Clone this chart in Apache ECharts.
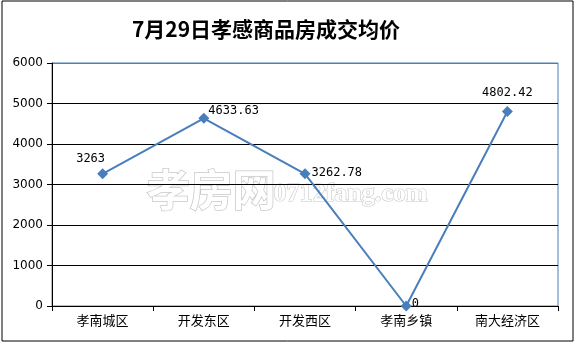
<!DOCTYPE html>
<html><head><meta charset="utf-8">
<script src="https://cdn.jsdelivr.net/npm/echarts@6/dist/echarts.min.js"></script>
<style>html,body{margin:0;padding:0;background:#fff}#c{width:575px;height:344px}</style>
</head><body><div id="c"></div>
<script>
var titleText = '7月29日孝感商品房成交均价';
var categories = ['孝南城区', '开发东区', '开发西区', '孝南乡镇', '南大经济区'];
var prices = [3263, 4633.63, 3262.78, 0, 4802.42];
var priceLabels = ['3263', '4633.63', '3262.78', '0', '4802.42'];
var yTicks = [0, 1000, 2000, 3000, 4000, 5000, 6000];

var labelPos = [
  {position: 'top', offset: [-12, 2]},
  {position: 'right', offset: [-6, -7]},
  {position: 'right', offset: [-4, -1]},
  {position: 'right', offset: [-5, -2]},
  {position: 'top', offset: [0, -2]}
];
var lineColor = '#4a7ebb';
var data = prices.map(function (v, i) {
  return {value: v, label: Object.assign({show: true, formatter: priceLabels[i]}, labelPos[i])};
});

var chart = echarts.init(document.getElementById('c'));
chart.setOption({
  animation: false,
  backgroundColor: '#fff',
  title: {
    text: titleText, left: 261, top: 14, textAlign: 'center',
    textStyle: {fontSize: 21, fontWeight: 'bold', color: '#000', fontFamily: '"Noto Sans CJK SC", sans-serif'}
  },
  graphic: [
    {type: 'rect', shape: {x: 2, y: 1, width: 571, height: 340}, style: {fill: 'none', stroke: '#000', lineWidth: 1}, z: 100},
    {type: 'text', left: 146, top: 167, z: 0, style: {text: '孝房网', fontSize: 43, fontWeight: 'bold', fontFamily: '"Noto Sans CJK SC"', fill: '#fff', stroke: '#c8c8c8', lineWidth: 1.5}},
    {type: 'text', left: 273, top: 181, z: 0, style: {text: '0712fang.com', fontSize: 26, fontWeight: 'bold', fontFamily: '"Liberation Serif"', fill: '#fff', stroke: '#c8c8c8', lineWidth: 1.2}}
  ],
  grid: {left: 52, right: 17, top: 63, bottom: 38, show: true, borderColor: lineColor, borderWidth: 1, backgroundColor: 'transparent'},
  xAxis: {
    type: 'category', data: categories, boundaryGap: true,
    axisLine: {lineStyle: {color: '#000', width: 1}},
    axisTick: {show: true, length: 5, alignWithLabel: false, lineStyle: {color: '#000'}},
    axisLabel: {color: '#000', fontSize: 13, margin: 8, fontFamily: '"Noto Sans CJK SC", sans-serif'}
  },
  yAxis: {
    type: 'value', min: yTicks[0], max: yTicks[yTicks.length - 1], interval: 1000,
    axisLine: {show: true, lineStyle: {color: '#000', width: 1}},
    axisTick: {show: true, length: 5, lineStyle: {color: '#000'}},
    axisLabel: {color: '#000', fontSize: 12, margin: 9, fontFamily: '"DejaVu Sans", sans-serif', formatter: function (v) { return String(v); }},
    splitLine: {show: true, lineStyle: {color: ['#000', '#000', '#000', '#000', '#000', '#000', lineColor], width: 1}}
  },
  series: [{
    type: 'line', data: data, symbol: 'diamond', symbolSize: 11,
    lineStyle: {color: lineColor, width: 2},
    itemStyle: {color: lineColor},
    label: {color: '#000', fontSize: 12, fontFamily: '"DejaVu Sans Mono", monospace'},
    z: 5
  }]
});
</script></body></html>
